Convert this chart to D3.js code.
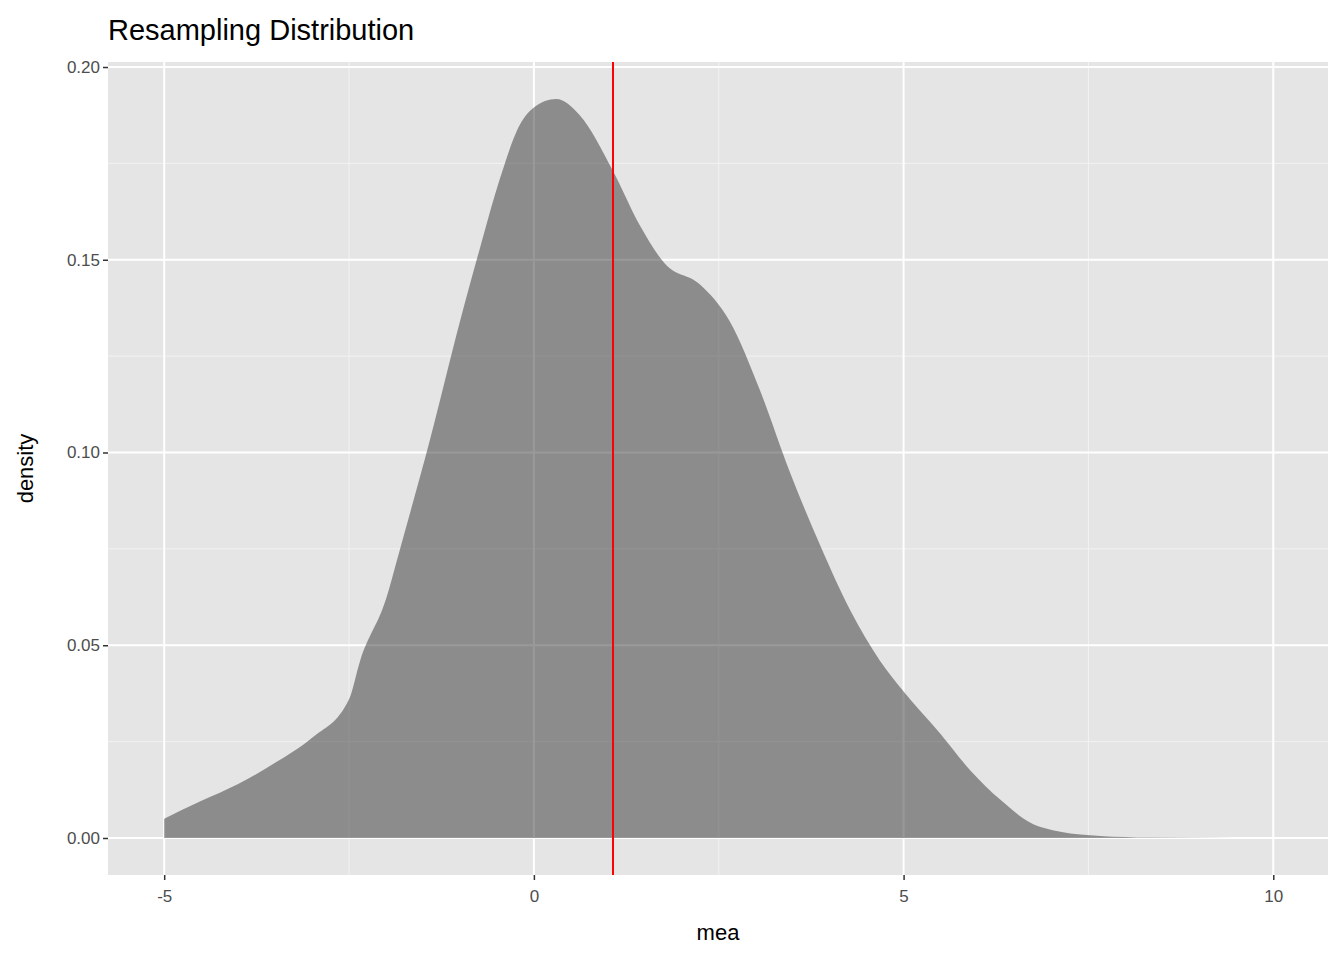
<!DOCTYPE html>
<html><head><meta charset="utf-8">
<script src="https://cdn.jsdelivr.net/npm/d3@7"></script>
<style>body{margin:0;background:#fff;font-family:"Liberation Sans",Arial,sans-serif}</style>
</head><body><svg id="chart" width="1344" height="960"></svg>
<script>
// density estimate
var meaValues = [-5, -4.51, -4, -3.5, -3, -2.5, -2.35, -2, -1.81, -1.41, -1.0, -0.73, -0.46, -0.19, 0, 0.3, 0.62, 1.07, 1.43, 1.77, 2.25, 2.65, 3.06, 3.46, 3.87, 4.28, 4.68, 5, 5.5, 5.9, 6.31, 6.71, 7.12, 7.66, 8.33, 9.5];
var densityValues = [0.005, 0.0095, 0.014, 0.0195, 0.026, 0.036, 0.046, 0.062, 0.075, 0.103, 0.134, 0.153, 0.171, 0.185, 0.1895, 0.1917, 0.1875, 0.173, 0.159, 0.149, 0.1435, 0.134, 0.116, 0.095, 0.076, 0.059, 0.046, 0.038, 0.027, 0.0176, 0.0099, 0.004, 0.0016, 0.0005, 0.0001, 0];
var meanLine = 1.07;
var xTicks = [-5, 0, 5, 10];
var yTicks = [0, 0.05, 0.1, 0.15, 0.2];

var svg = d3.select("#chart");
var pLeft = 108, pRight = 1328, pTop = 62, pBottom = 875;

var x = d3.scaleLinear().domain([-5.76, 10.74]).range([pLeft, pRight]);
var y = d3.scaleLinear().domain([-0.0096, 0.2013]).range([pBottom, pTop]);

// panel
svg.append("rect").attr("x", pLeft).attr("y", pTop)
  .attr("width", pRight - pLeft).attr("height", pBottom - pTop).attr("fill", "#e5e5e5");

// minor grid
[-2.5, 2.5, 7.5].forEach(v => svg.append("line").attr("x1", x(v)).attr("x2", x(v))
  .attr("y1", pTop).attr("y2", pBottom).attr("stroke", "#f2f2f2").attr("stroke-width", 1));
[0.025, 0.075, 0.125, 0.175].forEach(v => svg.append("line").attr("y1", y(v)).attr("y2", y(v))
  .attr("x1", pLeft).attr("x2", pRight).attr("stroke", "#f2f2f2").attr("stroke-width", 1));
// major grid
xTicks.forEach(v => svg.append("line").attr("x1", x(v)).attr("x2", x(v))
  .attr("y1", pTop).attr("y2", pBottom).attr("stroke", "#fff").attr("stroke-width", 2));
yTicks.forEach(v => svg.append("line").attr("y1", y(v)).attr("y2", y(v))
  .attr("x1", pLeft).attr("x2", pRight).attr("stroke", "#fff").attr("stroke-width", 2));

// density area
var pts = meaValues.map((m, i) => [m, densityValues[i]]);
var area = d3.area().x(d => x(d[0])).y0(y(0)).y1(d => y(d[1])).curve(d3.curveMonotoneX);
svg.append("path").datum(pts).attr("d", area).attr("fill", "#333333").attr("fill-opacity", 0.5);

// mean line
svg.append("line").attr("x1", x(meanLine)).attr("x2", x(meanLine))
  .attr("y1", pTop).attr("y2", pBottom).attr("stroke", "red").attr("stroke-width", 2);

// axes
var xAxis = svg.append("g").attr("transform", `translate(0,${pBottom})`)
  .call(d3.axisBottom(x).tickValues(xTicks).tickSize(5).tickFormat(d => String(d)));
var yAxis = svg.append("g").attr("transform", `translate(${pLeft},0)`)
  .call(d3.axisLeft(y).tickValues(yTicks).tickSize(5).tickFormat(d => d.toFixed(2)));
[xAxis, yAxis].forEach(a => {
  a.select(".domain").remove();
  a.selectAll(".tick line").attr("stroke", "#333").attr("stroke-width", 1.5);
  a.selectAll("text").attr("fill", "#4d4d4d").style("font-size", "17px")
    .style("font-family", "Liberation Sans, Arial, sans-serif");
});
xAxis.selectAll("text").attr("dy", "1.1em");

svg.append("text").attr("x", (pLeft + pRight) / 2).attr("y", 940).attr("text-anchor", "middle")
  .style("font-size", "22px").text("mea");
svg.append("text").attr("transform", `translate(33,${(pTop + pBottom) / 2}) rotate(-90)`)
  .attr("text-anchor", "middle").style("font-size", "22px").text("density");
svg.append("text").attr("x", pLeft).attr("y", 40).style("font-size", "29px").text("Resampling Distribution");
</script></body></html>
